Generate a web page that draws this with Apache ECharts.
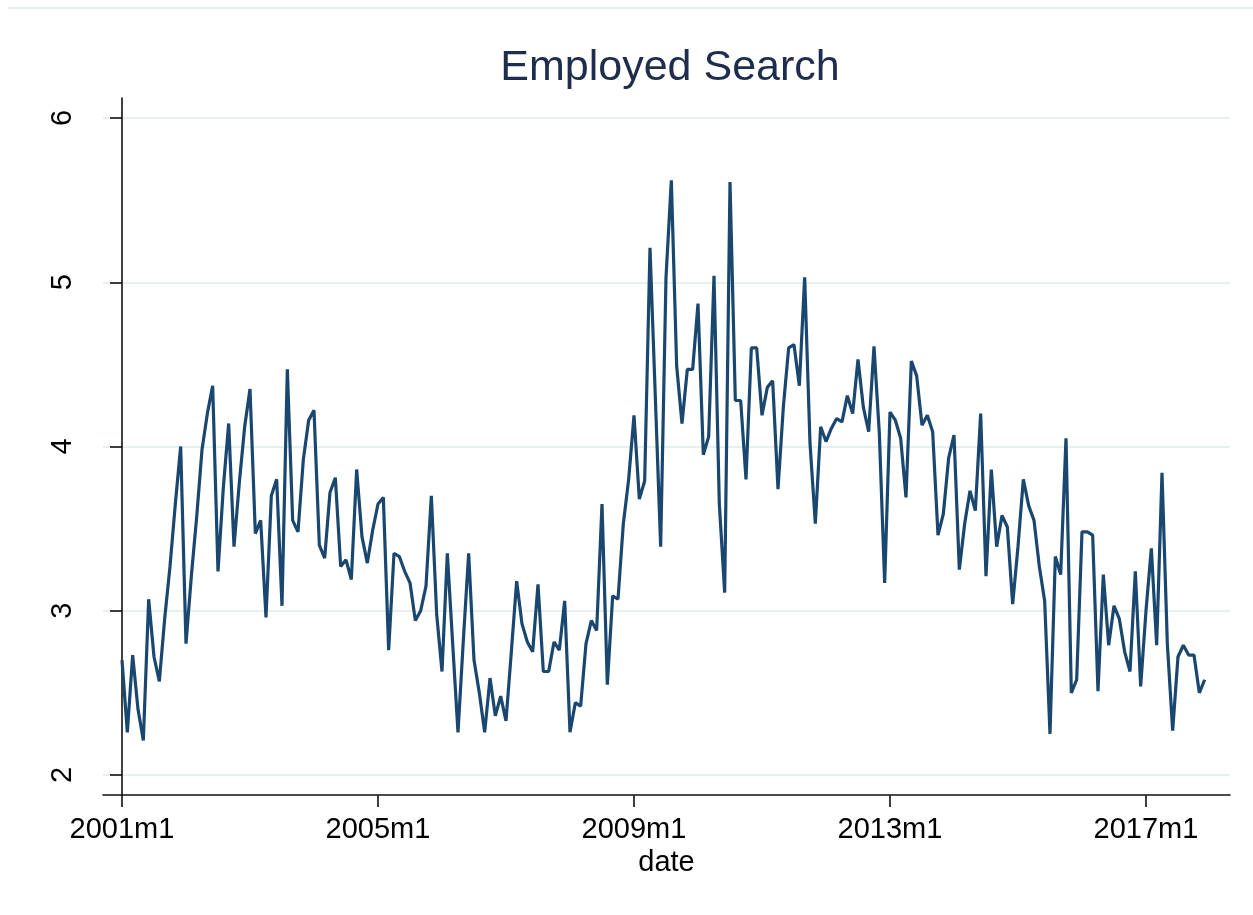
<!DOCTYPE html>
<html><head><meta charset="utf-8">
<script src="https://cdn.jsdelivr.net/npm/echarts@6/dist/echarts.min.js"></script>
<style>html,body{margin:0;padding:0;background:#fff}#c{width:1253px;height:915px}</style>
</head><body><div id="c"></div>
<script>
const chartTitle = 'Employed Search';
const xTitle = 'date';
const xTickValues = [0, 48, 96, 144, 192];
const xTickLabels = ['2001m1', '2005m1', '2009m1', '2013m1', '2017m1'];
const yTickValues = [2, 3, 4, 5, 6];
const v2001 = [2.70,2.26,2.73,2.40,2.21,3.07,2.72,2.57,2.95,3.27,3.65,4.00];
const v2002 = [2.80,3.21,3.57,3.98,4.20,4.37,3.24,3.75,4.14,3.39,3.78,4.12];
const v2003 = [4.35,3.47,3.55,2.96,3.70,3.80,3.03,4.47,3.55,3.48,3.92,4.16];
const v2004 = [4.22,3.40,3.32,3.72,3.81,3.27,3.31,3.19,3.86,3.45,3.29,3.49];
const v2005 = [3.65,3.69,2.76,3.35,3.33,3.24,3.17,2.94,3.00,3.15,3.70,2.98];
const v2006 = [2.63,3.35,2.80,2.26,2.82,3.35,2.70,2.50,2.26,2.59,2.36,2.48];
const v2007 = [2.33,2.75,3.18,2.92,2.81,2.75,3.16,2.63,2.63,2.81,2.76,3.06];
const v2008 = [2.26,2.44,2.42,2.80,2.94,2.88,3.65,2.55,3.09,3.07,3.53,3.80];
const v2009 = [4.19,3.68,3.79,5.21,4.30,3.39,5.03,5.62,4.49,4.14,4.47,4.47];
const v2010 = [4.87,3.95,4.06,5.04,3.65,3.11,5.61,4.28,4.28,3.80,4.60,4.60];
const v2011 = [4.19,4.36,4.40,3.74,4.24,4.60,4.62,4.37,5.03,4.02,3.53,4.12];
const v2012 = [4.03,4.11,4.17,4.15,4.31,4.20,4.53,4.24,4.09,4.61,4.08,3.17];
const v2013 = [4.21,4.16,4.05,3.69,4.52,4.43,4.13,4.19,4.09,3.46,3.59,3.93];
const v2014 = [4.07,3.25,3.53,3.73,3.61,4.20,3.21,3.86,3.39,3.58,3.51,3.04];
const v2015 = [3.39,3.80,3.64,3.55,3.27,3.06,2.25,3.33,3.22,4.05,2.50,2.58];
const v2016 = [3.48,3.48,3.46,2.51,3.22,2.79,3.03,2.95,2.75,2.63,3.24,2.54];
const v2017 = [3.00,3.38,2.79,3.84,2.80,2.27,2.72,2.79,2.73,2.73,2.50,2.58];

const allValues = [].concat(v2001, v2002, v2003, v2004, v2005, v2006, v2007, v2008,
  v2009, v2010, v2011, v2012, v2013, v2014, v2015, v2016, v2017);
const seriesData = allValues.map((v, i) => [i, v]);

const FONT = 'Liberation Sans, Arial, sans-serif';
const X_MIN = -3.5625, X_MAX = 207.75;

const chart = echarts.init(document.getElementById('c'), null, {renderer: 'canvas'});
chart.setOption({
  backgroundColor: '#ffffff',
  animation: false,
  title: {
    text: chartTitle, left: 665, top: 42, textAlign: 'center',
    textStyle: {fontSize: 43, fontWeight: 'normal', color: '#1f2d4d', fontFamily: FONT}
  },
  graphic: [
    {type: 'line', shape: {x1: 8, y1: 8, x2: 1253, y2: 8}, style: {stroke: '#e4ecee', lineWidth: 2}, silent: true}
  ],
  grid: [
    {left: 103, top: 98, width: 1127, height: 697},
    {left: 103, top: 118, width: 1127, height: 657}
  ],
  xAxis: [
    {
      type: 'value', gridIndex: 0, min: X_MIN, max: X_MAX,
      axisLine: {show: true, lineStyle: {color: '#111', width: 1.6}},
      axisTick: {show: true, customValues: xTickValues, length: 12, lineStyle: {color: '#111', width: 1.6}},
      axisLabel: {
        show: true, customValues: xTickValues, margin: 20,
        formatter: v => xTickLabels[xTickValues.indexOf(Math.round(v))] || '',
        fontSize: 29, color: '#000', fontFamily: FONT
      },
      splitLine: {show: false},
      name: xTitle, nameLocation: 'middle', nameGap: 53,
      nameTextStyle: {fontSize: 29, color: '#000', fontFamily: FONT}
    },
    {
      type: 'value', gridIndex: 1, min: X_MIN, max: X_MAX, show: false
    }
  ],
  yAxis: [
    {
      type: 'value', gridIndex: 0, min: 0, max: 1,
      axisLine: {show: true, lineStyle: {color: '#111', width: 1.6}},
      axisTick: {show: false}, axisLabel: {show: false}, splitLine: {show: false}
    },
    {
      type: 'value', gridIndex: 1, min: yTickValues[0], max: yTickValues[yTickValues.length - 1], interval: 1,
      axisLine: {show: false},
      axisTick: {show: true, length: 12, lineStyle: {color: '#111', width: 1.6}},
      axisLabel: {show: true, rotate: 90, margin: 26, fontSize: 29, color: '#000', fontFamily: FONT},
      splitLine: {show: true, lineStyle: {color: '#e8eff1', width: 2}}
    }
  ],
  series: [{
    type: 'line', xAxisIndex: 1, yAxisIndex: 1, data: seriesData,
    showSymbol: false, symbol: 'none',
    lineStyle: {color: '#1a476f', width: 3.2},
    z: 5
  }]
});
</script></body></html>
